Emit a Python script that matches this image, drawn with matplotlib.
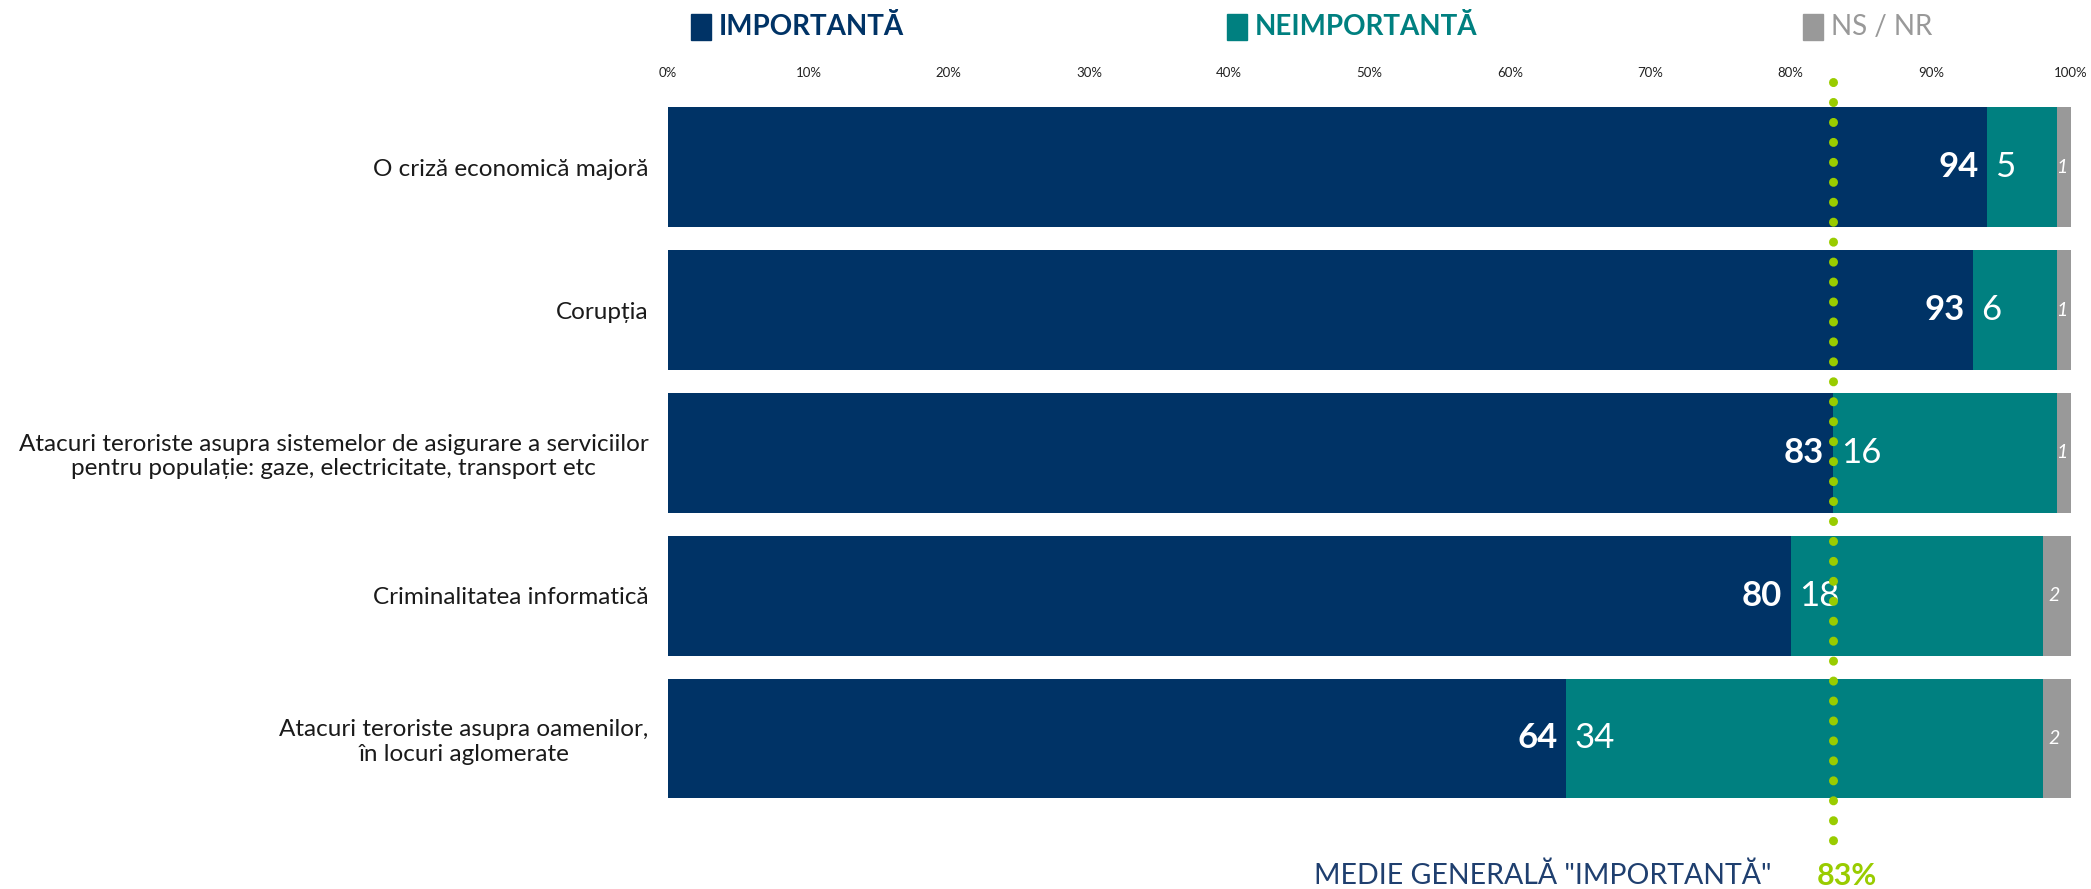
import numpy as np
import matplotlib.pyplot as plt
from matplotlib.patches import Rectangle

plt.rcParams['font.family'] = ['Lato', 'DejaVu Sans']

categories = ["O criză economică majoră",
              "Corupția",
              "Atacuri teroriste asupra sistemelor de asigurare a serviciilor\npentru populație: gaze, electricitate, transport etc",
              "Criminalitatea informatică",
              "Atacuri teroriste asupra oamenilor,\nîn locuri aglomerate"]
importanta = [94, 93, 83, 80, 64]
neimportanta = [5, 6, 16, 18, 34]
ns_nr = [1, 1, 1, 2, 2]
medie = 83
ticks = [0, 10, 20, 30, 40, 50, 60, 70, 80, 90, 100]
tick_labels = [f"{t}%" for t in ticks]

navy = "#003366"
teal = "#008080"
grey = "#999999"
green = "#99CC00"

fig = plt.figure(figsize=(20.91, 8.89), dpi=100)
ax = fig.add_axes([0.3195, 0.089, 0.671, 0.803])

y = np.arange(len(categories))
h = 0.84
imp = np.array(importanta)
neu = np.array(neimportanta)
ns = np.array(ns_nr)

ax.barh(y, imp, height=h, color=navy)
ax.barh(y, neu, left=imp, height=h, color=teal)
ax.barh(y, ns, left=imp + neu, height=h, color=grey)

for i in range(len(categories)):
    ax.annotate(str(imp[i]), (imp[i], y[i]), xytext=(-6, 0), textcoords="offset points",
                ha="right", va="center", color="white", fontsize=25, fontweight="bold")
    ax.annotate(str(neu[i]), (imp[i], y[i]), xytext=(6, 0), textcoords="offset points",
                ha="left", va="center", color="white", fontsize=25)
    ax.annotate(str(ns[i]), (imp[i] + neu[i] + ns[i] / 2, y[i]), xytext=(-2, 0),
                textcoords="offset points", ha="center", va="center",
                color="white", fontsize=14, fontstyle="italic")

# average line
ax.plot([medie, medie], [-0.6, 4.74], color=green, lw=6.5, linestyle=(0, (0.01, 2.2)),
        dash_capstyle="round", clip_on=False, zorder=5)

ax.set_xlim(0, 100)
ax.set_ylim(4.5, -0.5)
ax.set_xticks(ticks)
ax.set_xticklabels(tick_labels)
ax.xaxis.tick_top()
ax.tick_params(axis="x", length=0, pad=12, labelsize=9.5, labelcolor="#222222")
ax.set_yticks(y)
ax.set_yticklabels(categories, fontsize=17.5, color="#1a1a1a")
for lab in ax.get_yticklabels():
    lab.set_multialignment("center")
ax.tick_params(axis="y", length=0, pad=14)
for s in ax.spines.values():
    s.set_visible(False)

# legend
legend = [("IMPORTANTĂ", navy, "bold", 691), ("NEIMPORTANTĂ", teal, "bold", 1227), ("NS / NR", grey, "normal", 1803)]
for name, col, w, px in legend:
    fig.add_artist(Rectangle((px / 2091, 1 - 40 / 889), 20 / 2091, 26 / 889,
                             transform=fig.transFigure, color=col))
    fig.text((px + 28) / 2091, 1 - 27 / 889, name, color=col, fontweight=w,
             fontsize=20, va="center", ha="left")

fig.text(1771 / 2091, 1 - 876 / 889, 'MEDIE GENERALĂ "IMPORTANTĂ"', color="#1F3F6F",
         fontsize=20.5, ha="right", va="center")
fig.text(1817 / 2091, 1 - 876 / 889, f"{medie}%", color=green, fontsize=22,
         fontweight="bold", ha="left", va="center")

fig.savefig("out.png", dpi=100)
